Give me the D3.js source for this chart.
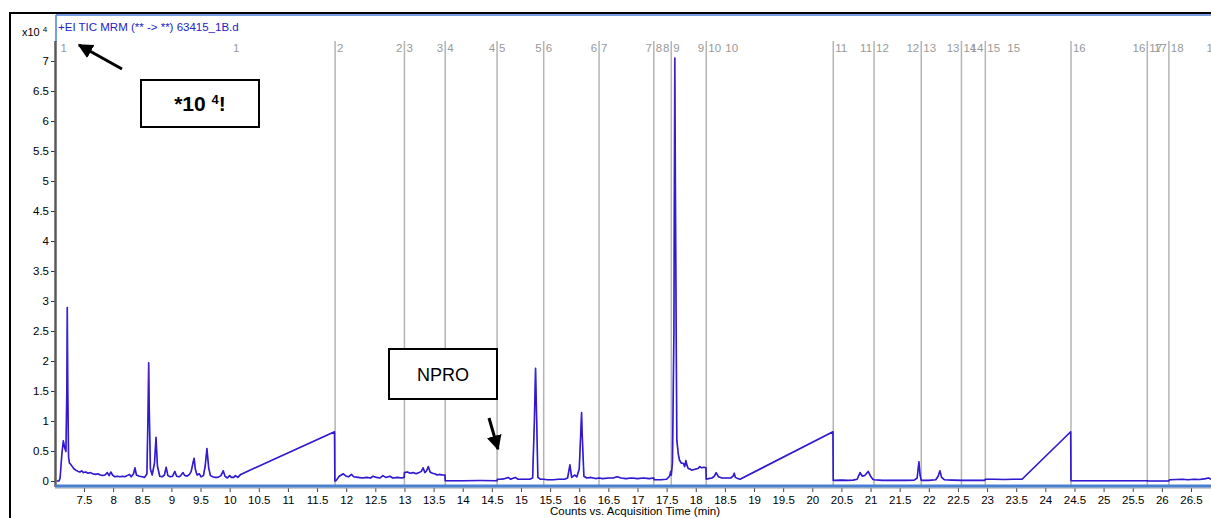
<!DOCTYPE html>
<html>
<head>
<meta charset="utf-8">
<script src="https://cdn.jsdelivr.net/npm/d3@7"></script>
<style>
  html, body { margin: 0; padding: 0; background: #fff; overflow: hidden; }
  svg { display: block; }
  text { font-family: "Liberation Sans", Arial, sans-serif; }
</style>
</head>
<body>
<svg id="chart" width="1211" height="518"></svg>
<script>
// ---- data -------------------------------------------------------------
const chartTitle = "+EI TIC MRM (** -> **) 63415_1B.d";
const xAxisTitle = "Counts vs. Acquisition Time (min)";

// acquisition time (min) and counts (x10^4) of the TIC trace
const traceTime = [
  7.03, 7.07, 7.09, 7.12, 7.145, 7.17, 7.19, 7.205, 7.213, 7.222, 7.235, 7.25, 7.27, 7.30, 7.33, 7.36,
  7.40, 7.43, 7.46, 7.49, 7.53, 7.57, 7.61, 7.65, 7.70, 7.74, 7.78, 7.82, 7.86, 7.90, 7.93, 7.96,
  7.99, 8.03, 8.07, 8.12, 8.16, 8.20, 8.24, 8.28, 8.31, 8.35, 8.375, 8.40, 8.45, 8.50, 8.54, 8.58,
  8.60, 8.61, 8.62, 8.64, 8.67, 8.71, 8.736, 8.76, 8.80, 8.84, 8.88, 8.91, 8.94, 8.98, 9.02, 9.06,
  9.09, 9.13, 9.16, 9.20, 9.23, 9.27, 9.31, 9.34, 9.37, 9.39, 9.41, 9.44, 9.48, 9.51, 9.55, 9.58,
  9.61, 9.64, 9.67, 9.71, 9.75, 9.80, 9.85, 9.89, 9.92, 9.96, 10.00, 10.03, 10.07, 10.10, 10.14, 10.19,
  11.80, 11.805,
  11.83, 11.88, 11.95, 12.00, 12.04, 12.09, 12.13, 12.20, 12.28, 12.35, 12.42, 12.46, 12.52, 12.58,
  12.63, 12.68, 12.75, 12.80, 12.88, 12.95, 12.995,
  13.00, 13.05, 13.10, 13.15, 13.20, 13.25, 13.29, 13.32, 13.35, 13.38, 13.41, 13.44, 13.48, 13.52,
  13.56, 13.60, 13.65, 13.695,
  13.70, 14.00, 14.30, 14.59,
  14.595, 14.65, 14.70, 14.78, 14.82, 14.90, 14.95, 15.05, 15.15, 15.20, 15.23, 15.25, 15.27, 15.29, 15.33,
  15.39, 15.45, 15.55, 15.65, 15.75, 15.80, 15.84, 15.87, 15.92, 15.96, 16.00, 16.03, 16.04, 16.05,
  16.08, 16.13, 16.20, 16.28,
  16.34, 16.40, 16.50, 16.58, 16.65, 16.72, 16.80, 16.90, 17.00, 17.10, 17.20, 17.28,
  17.285, 17.40, 17.50, 17.55, 17.57,
  17.58, 17.60, 17.625, 17.64, 17.655, 17.675, 17.70, 17.72, 17.75, 17.79, 17.81, 17.83, 17.85, 17.87,
  17.90, 17.93, 17.97, 18.00, 18.04, 18.07, 18.10, 18.14, 18.175,
  18.18, 18.22, 18.28, 18.32, 18.35, 18.39, 18.45, 18.52, 18.60, 18.64, 18.66, 18.68, 18.72, 18.76,
  20.355, 20.36,
  20.40, 20.50, 20.60, 20.70, 20.77, 20.82, 20.86, 20.90, 20.96, 21.00, 21.04,
  21.06, 21.20, 21.40, 21.60, 21.75, 21.80, 21.83, 21.85,
  21.87, 22.00, 22.12, 22.16, 22.19, 22.22, 22.27, 22.40,
  22.56, 22.70, 22.96,
  22.97, 23.10, 23.30, 23.45, 23.60,
  24.435, 24.44, 24.80, 25.20, 25.75,
  25.76, 26.00, 26.12,
  26.13, 26.25, 26.35, 26.45, 26.55, 26.65, 26.75, 26.80, 26.85, 26.95, 27.05
];
const traceCounts = [
  0.00, 0.00, 0.05, 0.45, 0.67, 0.55, 0.49, 1.50, 2.89, 1.50, 0.40, 0.30, 0.28, 0.24, 0.20, 0.18,
  0.16, 0.15, 0.17, 0.14, 0.15, 0.13, 0.14, 0.12, 0.11, 0.12, 0.10, 0.09, 0.10, 0.14, 0.09, 0.15,
  0.10, 0.07, 0.08, 0.07, 0.08, 0.07, 0.09, 0.11, 0.07, 0.12, 0.22, 0.10, 0.08, 0.07, 0.06, 0.12,
  1.20, 1.97, 1.20, 0.20, 0.10, 0.30, 0.73, 0.25, 0.08, 0.07, 0.10, 0.23, 0.09, 0.07, 0.08, 0.16,
  0.08, 0.07, 0.09, 0.14, 0.09, 0.08, 0.11, 0.16, 0.30, 0.38, 0.20, 0.10, 0.12, 0.07, 0.09, 0.25,
  0.54, 0.22, 0.09, 0.07, 0.06, 0.06, 0.09, 0.17, 0.08, 0.05, 0.09, 0.06, 0.06, 0.09, 0.06, 0.11,
  0.82, 0.00,
  0.01, 0.08, 0.12, 0.08, 0.07, 0.11, 0.07, 0.06, 0.05, 0.06, 0.05, 0.08, 0.06, 0.05,
  0.09, 0.06, 0.08, 0.05, 0.06, 0.05, 0.06,
  0.14, 0.15, 0.13, 0.14, 0.12, 0.14, 0.16, 0.22, 0.14, 0.17, 0.24, 0.15, 0.13, 0.12,
  0.10, 0.11, 0.10, 0.10,
  0.005, 0.005, 0.008, 0.005,
  0.03, 0.03, 0.035, 0.06, 0.03, 0.06, 0.03, 0.03, 0.03, 0.05, 1.00, 1.88, 1.00, 0.06, 0.03,
  0.03, 0.02, 0.02, 0.03, 0.03, 0.05, 0.27, 0.06, 0.10, 0.07, 0.20, 0.90, 1.14, 0.80,
  0.08, 0.05, 0.06, 0.04,
  0.05, 0.04, 0.05, 0.05, 0.07, 0.05, 0.04, 0.05, 0.04, 0.05, 0.04, 0.05,
  0.02, 0.02, 0.03, 0.08, 0.16,
  0.10, 0.30, 2.50, 7.05, 4.00, 0.68, 0.45, 0.35, 0.30, 0.29, 0.24, 0.34, 0.26, 0.21,
  0.20, 0.18, 0.19, 0.20, 0.21, 0.24, 0.22, 0.23, 0.22,
  0.03, 0.04, 0.05, 0.08, 0.14, 0.07, 0.05, 0.05, 0.05, 0.08, 0.13, 0.06, 0.04, 0.03,
  0.82, 0.01,
  0.01, 0.015, 0.01, 0.015, 0.03, 0.14, 0.08, 0.09, 0.16, 0.08, 0.03,
  0.02, 0.01, 0.01, 0.01, 0.015, 0.05, 0.32, 0.10,
  0.01, 0.01, 0.02, 0.08, 0.17, 0.06, 0.02, 0.015,
  0.01, 0.01, 0.01,
  0.03, 0.03, 0.025, 0.03, 0.03,
  0.82, 0.005, 0.005, 0.005, 0.005,
  0.00, 0.00, 0.00,
  0.02, 0.025, 0.03, 0.02, 0.03, 0.025, 0.04, 0.05, 0.03, 0.03, 0.03
];

// MRM time segments: start / end time and segment number
const segmentStart = [7.03, 11.81, 13.00, 13.70, 14.59, 15.39, 16.34, 17.28, 17.58, 18.18,
                      20.36, 21.06, 21.87, 22.56, 22.97, 24.44, 25.75, 26.12];
const segmentEnd   = [10.20, 13.00, 13.70, 14.59, 15.39, 16.34, 17.28, 17.58, 18.18, 18.76,
                      21.06, 21.87, 22.56, 22.97, 23.60, 25.75, 26.12, 27.02];
const segmentLabel = ["1","2","3","4","5","6","7","8","9","10","11","12","13","14","15","16","17","18"];

const xTickValues = d3.range(7.5, 26.51, 0.5);
const yTickValues = d3.range(0, 7.01, 0.5);

// ---- layout -----------------------------------------------------------
const svg = d3.select("#chart");
const plotLeft = 56, plotTop = 15, plotBottom = 486;

const x = d3.scaleLinear().domain([7.5, 26.5]).range([84, 1191]);
const y = d3.scaleLinear().domain([0, 7]).range([481, 61]);

// outer black frame
svg.append("line").attr("x1", 10).attr("x2", 10).attr("y1", 12).attr("y2", 518)
  .attr("stroke", "#000").attr("stroke-width", 2);
svg.append("line").attr("x1", 9).attr("x2", 1211).attr("y1", 13).attr("y2", 13)
  .attr("stroke", "#000").attr("stroke-width", 2);

// plot frame
svg.append("line").attr("x1", plotLeft).attr("x2", 1211).attr("y1", plotTop).attr("y2", plotTop)
  .attr("stroke", "#4a7fd4").attr("stroke-width", 1.5);
svg.append("line").attr("x1", plotLeft).attr("x2", plotLeft).attr("y1", plotTop).attr("y2", 42)
  .attr("stroke", "#4a7fd4").attr("stroke-width", 1.5);

// title
svg.append("text").attr("x", 58).attr("y", 31).attr("font-size", 11.5)
  .attr("fill", "#2323c8").text(chartTitle);

// y multiplier
const mult = svg.append("text").attr("x", 22).attr("y", 36).attr("font-size", 11).attr("fill", "#000");
mult.append("tspan").text("x10");
mult.append("tspan").attr("dx", 3).attr("dy", -4).attr("font-size", 8).text("4");

// segment boundaries
const gSeg = svg.append("g");
gSeg.selectAll("line").data(segmentStart.slice(1)).join("line")
  .attr("x1", d => x(d)).attr("x2", d => x(d))
  .attr("y1", 41).attr("y2", plotBottom)
  .attr("stroke", "#b4b4b4").attr("stroke-width", 1.5);

const segIdx = d3.range(segmentLabel.length);
gSeg.selectAll("text.s").data(segIdx).join("text").attr("class", "s")
  .attr("x", i => x(segmentStart[i]) + (i === 0 ? 4 : 2)).attr("y", 52)
  .attr("font-size", 11.5).attr("fill", "#999").text(i => segmentLabel[i]);
gSeg.selectAll("text.e").data(segIdx).join("text").attr("class", "e")
  .attr("x", i => x(segmentEnd[i]) - 2).attr("y", 52).attr("text-anchor", "end")
  .attr("font-size", 11.5).attr("fill", "#999").text(i => segmentLabel[i]);

// trace: blue line with a faint purple core
const pts = traceTime.map((t, i) => [t, traceCounts[i]]);
const line = d3.line().x(d => x(d[0])).y(d => y(d[1]));
svg.append("path").datum(pts).attr("d", line).attr("fill", "none")
  .attr("stroke", "#1610dc").attr("stroke-width", 1.6).attr("stroke-linejoin", "round");
svg.append("path").datum(pts).attr("d", line).attr("fill", "none")
  .attr("stroke", "#a23c98").attr("stroke-width", 0.6).attr("stroke-opacity", 0.45)
  .attr("stroke-linejoin", "round");

// y axis
const yAxis = d3.axisLeft(y).tickValues(yTickValues).tickSize(5).tickPadding(2)
  .tickFormat(d3.format("~g"));
const gy = svg.append("g").attr("transform", `translate(${plotLeft},0)`).call(yAxis);
gy.select(".domain").remove();
gy.selectAll("text").attr("font-size", 11.5).attr("fill", "#000")
  .attr("font-family", "Liberation Sans, Arial, sans-serif");
gy.selectAll("line").attr("stroke", "#333");
svg.append("line").attr("x1", plotLeft - 0.5).attr("x2", plotLeft - 0.5).attr("y1", 41).attr("y2", plotBottom + 1)
  .attr("stroke", "#5a5a5a").attr("stroke-width", 2.5);

// x axis
const xAxis = d3.axisBottom(x).tickValues(xTickValues).tickSize(4).tickPadding(4)
  .tickFormat(d3.format("~g"));
const gx = svg.append("g").attr("transform", `translate(0,${plotBottom + 2})`).call(xAxis);
gx.select(".domain").remove();
gx.selectAll("text").attr("font-size", 11.5).attr("fill", "#000")
  .attr("font-family", "Liberation Sans, Arial, sans-serif");
gx.selectAll("line").attr("stroke", "#444");
svg.append("line").attr("x1", plotLeft - 1).attr("x2", 1211).attr("y1", plotBottom + 2).attr("y2", plotBottom + 2)
  .attr("stroke", "#999").attr("stroke-width", 1);
svg.append("line").attr("x1", plotLeft - 1).attr("x2", 1211).attr("y1", plotBottom).attr("y2", plotBottom)
  .attr("stroke", "#4a80d2").attr("stroke-width", 3);

svg.append("text").attr("x", 635).attr("y", 515).attr("text-anchor", "middle")
  .attr("font-size", 11.5).attr("fill", "#000").text(xAxisTitle);

// annotations
const defs = svg.append("defs");
defs.append("marker").attr("id", "arrow").attr("viewBox", "0 0 10 10")
  .attr("refX", 9).attr("refY", 5).attr("markerWidth", 5).attr("markerHeight", 5)
  .attr("orient", "auto-start-reverse")
  .append("path").attr("d", "M0,0 L10,5 L0,10 z").attr("fill", "#000");

svg.append("line").attr("x1", 122).attr("y1", 69).attr("x2", 79).attr("y2", 45)
  .attr("stroke", "#000").attr("stroke-width", 3).attr("marker-end", "url(#arrow)");
svg.append("rect").attr("x", 141).attr("y", 80).attr("width", 118).attr("height", 47)
  .attr("fill", "#fff").attr("stroke", "#000").attr("stroke-width", 2);
const note = svg.append("text").attr("x", 200).attr("y", 111).attr("text-anchor", "middle")
  .attr("font-size", 21).attr("font-weight", "bold").attr("fill", "#000");
note.append("tspan").text("*10 ");
note.append("tspan").attr("dy", -7).attr("font-size", 13).text("4");
note.append("tspan").attr("dy", 7).text("!");

svg.append("rect").attr("x", 389).attr("y", 349).attr("width", 108).attr("height", 50)
  .attr("fill", "#fff").attr("stroke", "#000").attr("stroke-width", 2);
svg.append("text").attr("x", 443).attr("y", 381).attr("text-anchor", "middle")
  .attr("font-size", 18).attr("fill", "#000").text("NPRO");
svg.append("line").attr("x1", 489).attr("y1", 418).attr("x2", 498).attr("y2", 449)
  .attr("stroke", "#000").attr("stroke-width", 3).attr("marker-end", "url(#arrow)");
</script>
</body>
</html>
